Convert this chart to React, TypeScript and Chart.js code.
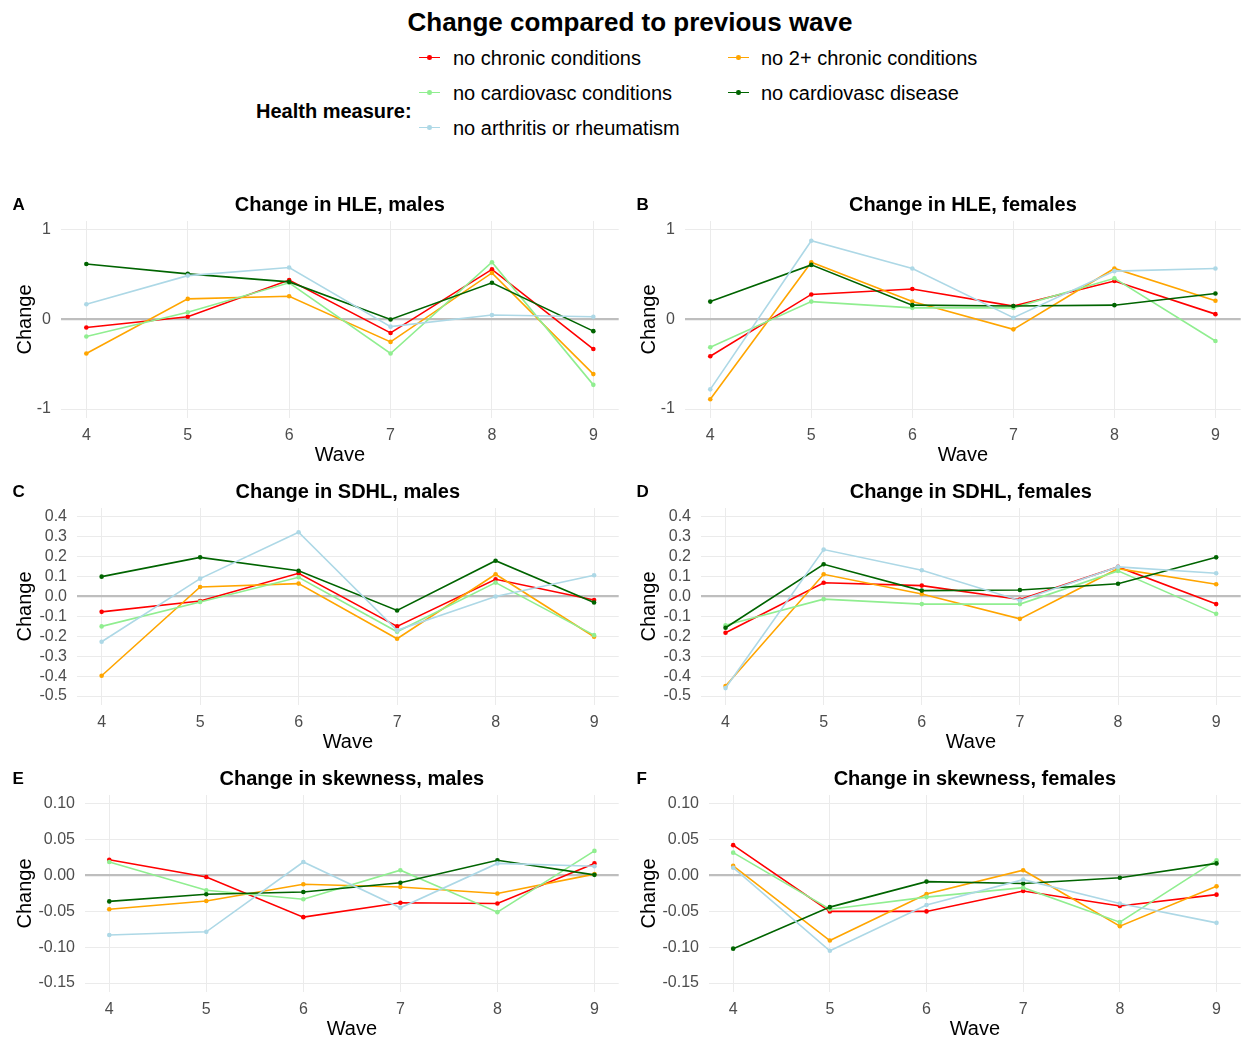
import React, { useEffect, useRef } from "react";
import { Chart, registerables } from "chart.js";

Chart.register(...registerables);

const FONT = '"Liberation Sans", Arial, Helvetica, sans-serif';

// ---- data ----
const waves = [4, 5, 6, 7, 8, 9];
const seriesNames = [
  "no chronic conditions",
  "no 2+ chronic conditions",
  "no cardiovasc conditions",
  "no cardiovasc disease",
  "no arthritis or rheumatism",
];
const seriesColors = ["#ff0000", "#ffa500", "#90ee90", "#006400", "#add8e6"];

// A: Change in HLE, males
const hleMalesNoChronic = [-0.09, 0.03, 0.44, -0.15, 0.56, -0.33];
const hleMalesNo2Plus = [-0.38, 0.23, 0.26, -0.25, 0.52, -0.61];
const hleMalesNoCvCond = [-0.19, 0.08, 0.41, -0.38, 0.64, -0.73];
const hleMalesNoCvDis = [0.62, 0.51, 0.42, 0.0, 0.41, -0.13];
const hleMalesNoArth = [0.17, 0.49, 0.58, -0.08, 0.05, 0.03];

// B: Change in HLE, females
const hleFemalesNoChronic = [-0.41, 0.28, 0.34, 0.15, 0.43, 0.06];
const hleFemalesNo2Plus = [-0.89, 0.64, 0.2, -0.11, 0.57, 0.21];
const hleFemalesNoCvCond = [-0.31, 0.2, 0.13, 0.13, 0.46, -0.24];
const hleFemalesNoCvDis = [0.2, 0.61, 0.16, 0.15, 0.16, 0.29];
const hleFemalesNoArth = [-0.78, 0.88, 0.57, 0.02, 0.54, 0.57];

// C: Change in SDHL, males
const sdhlMalesNoChronic = [-0.077, -0.022, 0.117, -0.15, 0.087, -0.017];
const sdhlMalesNo2Plus = [-0.398, 0.048, 0.065, -0.212, 0.112, -0.202];
const sdhlMalesNoCvCond = [-0.15, -0.027, 0.097, -0.177, 0.07, -0.194];
const sdhlMalesNoCvDis = [0.1, 0.197, 0.13, -0.07, 0.18, -0.03];
const sdhlMalesNoArth = [-0.227, 0.09, 0.323, -0.17, 0.0, 0.107];

// D: Change in SDHL, females
const sdhlFemalesNoChronic = [-0.182, 0.069, 0.055, -0.015, 0.149, -0.038];
const sdhlFemalesNo2Plus = [-0.45, 0.112, 0.013, -0.112, 0.14, 0.062];
const sdhlFemalesNoCvCond = [-0.144, -0.013, -0.038, -0.038, 0.129, -0.087];
const sdhlFemalesNoCvDis = [-0.157, 0.162, 0.03, 0.033, 0.064, 0.197];
const sdhlFemalesNoArth = [-0.46, 0.236, 0.132, -0.02, 0.149, 0.117];

// E: Change in skewness, males
const skewMalesNoChronic = [0.022, -0.002, -0.058, -0.038, -0.039, 0.017];
const skewMalesNo2Plus = [-0.047, -0.0355, -0.012, -0.016, -0.025, 0.002];
const skewMalesNoCvCond = [0.019, -0.0205, -0.033, 0.0075, -0.051, 0.0345];
const skewMalesNoCvDis = [-0.036, -0.026, -0.023, -0.01, 0.0215, 0.001];
const skewMalesNoArth = [-0.083, -0.0785, 0.019, -0.045, 0.017, 0.013];

// F: Change in skewness, females
const skewFemalesNoChronic = [0.0425, -0.05, -0.05, -0.0215, -0.0425, -0.0266];
const skewFemalesNo2Plus = [0.0135, -0.0907, -0.0257, 0.0075, -0.0706, -0.015];
const skewFemalesNoCvCond = [0.032, -0.047, -0.03, -0.0168, -0.065, 0.0215];
const skewFemalesNoCvDis = [-0.102, -0.044, -0.0084, -0.011, -0.003, 0.017];
const skewFemalesNoArth = [0.011, -0.105, -0.041, -0.0056, -0.039, -0.066];

// tick labels
const yTicksHLE = [-1, 0, 1];
const yTicksSDHL = [-0.5, -0.4, -0.3, -0.2, -0.1, 0, 0.1, 0.2, 0.3, 0.4];
const yTicksSkew = [-0.15, -0.1, -0.05, 0, 0.05, 0.1];

type PanelDef = {
  letter: string;
  title: string;
  col: number;
  row: number;
  yMin: number;
  yMax: number;
  yTicks: number[];
  decimals: number;
  yAxisW: number;
  series: number[][];
};

const panels: PanelDef[] = [
  { letter: "A", title: "Change in HLE, males", col: 0, row: 0, yMin: -1.1, yMax: 1.1, yTicks: yTicksHLE, decimals: 0, yAxisW: 61,
    series: [hleMalesNoChronic, hleMalesNo2Plus, hleMalesNoCvCond, hleMalesNoCvDis, hleMalesNoArth] },
  { letter: "B", title: "Change in HLE, females", col: 1, row: 0, yMin: -1.1, yMax: 1.1, yTicks: yTicksHLE, decimals: 0, yAxisW: 61,
    series: [hleFemalesNoChronic, hleFemalesNo2Plus, hleFemalesNoCvCond, hleFemalesNoCvDis, hleFemalesNoArth] },
  { letter: "C", title: "Change in SDHL, males", col: 0, row: 1, yMin: -0.545, yMax: 0.445, yTicks: yTicksSDHL, decimals: 1, yAxisW: 77,
    series: [sdhlMalesNoChronic, sdhlMalesNo2Plus, sdhlMalesNoCvCond, sdhlMalesNoCvDis, sdhlMalesNoArth] },
  { letter: "D", title: "Change in SDHL, females", col: 1, row: 1, yMin: -0.545, yMax: 0.445, yTicks: yTicksSDHL, decimals: 1, yAxisW: 77,
    series: [sdhlFemalesNoChronic, sdhlFemalesNo2Plus, sdhlFemalesNoCvCond, sdhlFemalesNoCvDis, sdhlFemalesNoArth] },
  { letter: "E", title: "Change in skewness, males", col: 0, row: 2, yMin: -0.1625, yMax: 0.1125, yTicks: yTicksSkew, decimals: 2, yAxisW: 85,
    series: [skewMalesNoChronic, skewMalesNo2Plus, skewMalesNoCvCond, skewMalesNoCvDis, skewMalesNoArth] },
  { letter: "F", title: "Change in skewness, females", col: 1, row: 2, yMin: -0.1625, yMax: 0.1125, yTicks: yTicksSkew, decimals: 2, yAxisW: 85,
    series: [skewFemalesNoChronic, skewFemalesNo2Plus, skewFemalesNoCvCond, skewFemalesNoCvDis, skewFemalesNoArth] },
];

const colLeft = [0, 624];
const colWidth = [621, 619];
const colPadRight = [1, 0];
const rowTop = [181, 468, 755];
const CANVAS_H = 286;
const PAD_TOP = 40;
const X_AXIS_H = 49;

const panelTextPlugin = {
  id: "panelText",
  afterDraw(chart: any, _args: any, opts: any) {
    const { ctx, chartArea } = chart;
    ctx.save();
    ctx.fillStyle = "#000000";
    ctx.textBaseline = "alphabetic";
    ctx.font = `bold 20px ${FONT}`;
    ctx.textAlign = "center";
    ctx.fillText(opts.title, (chartArea.left + chartArea.right) / 2, chartArea.top - 10);
    ctx.font = `bold 17px ${FONT}`;
    ctx.textAlign = "left";
    ctx.fillText(opts.letter, 12.5, chartArea.top - 11.5);
    ctx.restore();
  },
};

function PanelChart({ p }: { p: PanelDef }) {
  const ref = useRef<HTMLCanvasElement | null>(null);
  useEffect(() => {
    if (!ref.current) return;
    const datasets = p.series.map((vals, i) => ({
      label: seriesNames[i],
      data: waves.map((w, j) => ({ x: w, y: vals[j] })),
      borderColor: seriesColors[i],
      backgroundColor: seriesColors[i],
      borderWidth: 1.6,
      pointRadius: 2.3,
      pointBorderWidth: 0,
      pointHoverRadius: 2.3,
      tension: 0,
      order: seriesNames.length - i,
    }));
    const isZero = (ctx: any) => ctx.tick && Math.abs(ctx.tick.value) < 1e-9;
    const chart = new Chart(ref.current, {
      type: "line",
      data: { datasets },
      plugins: [panelTextPlugin as any],
      options: {
        responsive: false,
        animation: false,
        devicePixelRatio: 1,
        layout: { padding: { top: PAD_TOP, left: 0, right: colPadRight[p.col], bottom: 0 } },
        plugins: {
          legend: { display: false },
          tooltip: { enabled: false },
          panelText: { title: p.title, letter: p.letter },
        } as any,
        scales: {
          x: {
            type: "linear",
            min: 3.75,
            max: 9.25,
            afterBuildTicks: (s: any) => {
              s.ticks = waves.map((v) => ({ value: v }));
            },
            afterFit: (s: any) => {
              s.height = X_AXIS_H;
            },
            ticks: {
              autoSkip: false,
              maxRotation: 0,
              padding: 8,
              color: "#4d4d4d",
              font: { size: 16, family: FONT },
              callback: (v: any) => String(v),
            },
            grid: { color: "#ebebeb", lineWidth: 1, drawTicks: false },
            border: { display: false },
            title: {
              display: true,
              text: "Wave",
              color: "#000000",
              font: { size: 20, family: FONT },
              padding: { top: 0, bottom: 0 },
            },
          },
          y: {
            type: "linear",
            min: p.yMin,
            max: p.yMax,
            afterBuildTicks: (s: any) => {
              s.ticks = p.yTicks.map((v) => ({ value: v }));
            },
            afterFit: (s: any) => {
              s.width = p.yAxisW;
            },
            ticks: {
              autoSkip: false,
              padding: 10,
              color: "#4d4d4d",
              font: { size: 16, family: FONT },
              callback: (v: any) => Number(v).toFixed(p.decimals),
            },
            grid: {
              color: (ctx: any) => (isZero(ctx) ? "#bebebe" : "#ebebeb"),
              lineWidth: (ctx: any) => (isZero(ctx) ? 2.2 : 1),
              drawTicks: false,
            },
            border: { display: false },
            title: {
              display: true,
              text: "Change",
              color: "#000000",
              font: { size: 20, family: FONT },
              padding: { top: 13, bottom: 0 },
            },
          },
        },
      },
    } as any);
    return () => chart.destroy();
  }, [p]);
  const w = colWidth[p.col];
  return (
    <div style={{ position: "absolute", left: colLeft[p.col], top: rowTop[p.row], width: w, height: CANVAS_H }}>
      <canvas ref={ref} width={w} height={CANVAS_H} style={{ width: w, height: CANVAS_H, display: "block" }} />
    </div>
  );
}

const legendKeyX = [419, 728];
const legendTextX = [453, 761];
const legendBaselines = [65, 100, 135];

export default function App() {
  return (
    <div
      style={{
        position: "absolute",
        left: 0,
        top: 0,
        width: 1243,
        height: 1040,
        overflow: "hidden",
        background: "#ffffff",
        fontFamily: FONT,
      }}
    >
      <div
        style={{
          position: "absolute",
          left: 0,
          width: 1260,
          top: 9,
          textAlign: "center",
          fontSize: 26,
          lineHeight: "26px",
          fontWeight: "bold",
          color: "#000",
          whiteSpace: "nowrap",
        }}
      >
        Change compared to previous wave
      </div>
      <div
        style={{
          position: "absolute",
          left: 256,
          top: 100.5,
          fontSize: 20,
          lineHeight: "20px",
          fontWeight: "bold",
          color: "#000",
          whiteSpace: "nowrap",
        }}
      >
        Health measure:
      </div>
      {seriesNames.map((name, i) => {
        const col = i % 2;
        const row = Math.floor(i / 2);
        const base = legendBaselines[row];
        const ky = base - 7.5;
        return (
          <React.Fragment key={name}>
            <div
              style={{
                position: "absolute",
                left: legendKeyX[col],
                top: ky - 0.8,
                width: 21,
                height: 1.6,
                background: seriesColors[i],
              }}
            />
            <div
              style={{
                position: "absolute",
                left: legendKeyX[col] + 10.5 - 2.3,
                top: ky - 2.3,
                width: 4.6,
                height: 4.6,
                borderRadius: "50%",
                background: seriesColors[i],
              }}
            />
            <div
              style={{
                position: "absolute",
                left: legendTextX[col],
                top: base - 17,
                fontSize: 20,
                lineHeight: "20px",
                color: "#000",
                whiteSpace: "nowrap",
              }}
            >
              {name}
            </div>
          </React.Fragment>
        );
      })}
      {panels.map((p) => (
        <PanelChart key={p.letter} p={p} />
      ))}
    </div>
  );
}
